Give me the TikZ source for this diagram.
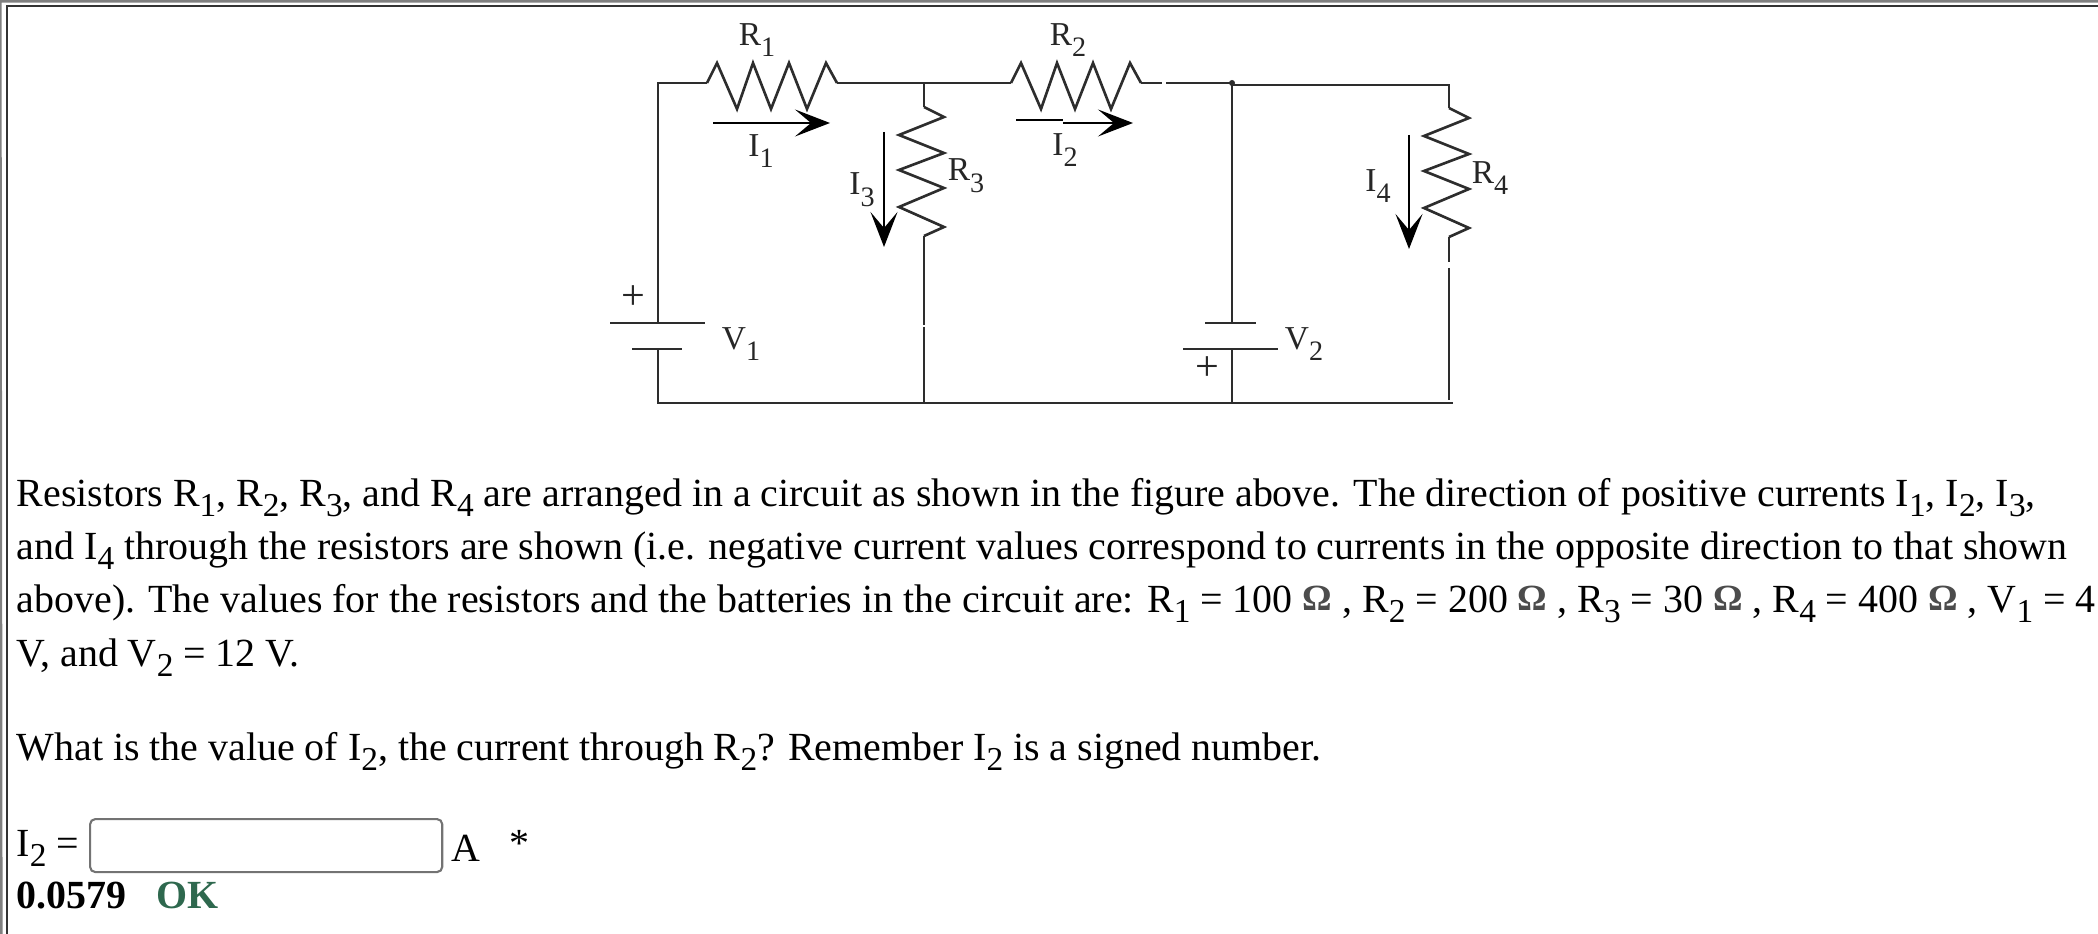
\documentclass[tikz,border=0pt]{standalone}
\usepackage{fontspec}
\setmainfont{Liberation Serif}
\usepackage{xcolor}
\definecolor{okgreen}{RGB}{46,104,78}
\definecolor{wirecol}{RGB}{45,45,45}
\usetikzlibrary{arrows.meta,positioning}
\newcommand{\subidx}[1]{\raisebox{-0.27em}{\fontsize{9.5pt}{10pt}\selectfont #1}}
\newcommand{\figidx}[1]{\raisebox{-0.35em}{\fontsize{8pt}{10pt}\selectfont #1}}
\newcommand{\ohmmark}{\raisebox{0.05em}{\fontsize{10.5pt}{10pt}\selectfont\bfseries\textcolor{black!70}{Ω}}}
\tikzset{
  wire/.style={draw=wirecol,line width=0.75pt},
  current/.style={draw=black,line width=0.65pt,-{Stealth[length=0.35cm,width=0.27cm,inset=0.16cm]}},
  plate/.style={draw=wirecol,line width=0.75pt},
  figlabel/.style={inner sep=0pt,text=black!85,font=\fontsize{9.5pt}{10pt}\selectfont},
  signlabel/.style={inner sep=0pt,text=black!85,font=\fontsize{12pt}{12pt}\selectfont},
  textline/.style={anchor=base west,inner sep=0pt,font=\fontsize{11.35pt}{12pt}\selectfont},
  answerbox/.style={draw=black!55,line width=0.6pt,rounded corners=1.5pt,inner sep=0pt,
    minimum width=3.52cm,minimum height=0.53cm,anchor=north west},
  hzigzag/.pic={
    \draw[wire] (0,0) -- (10,-20) -- (30,26) -- (46,-20) -- (64,26) -- (82,-20) -- (100,26) -- (119,-20) -- (130,0);
  },
  vzigzag/.pic={
    \draw[wire] (0,0) -- (20,10) -- (-25,28) -- (20,46) -- (-25,63) -- (20,81) -- (-25,100) -- (20,120) -- (0,129);
  }
}
\begin{document}
\begin{tikzpicture}[x=0.01cm,y=-0.01cm]
  \useasboundingbox (0,0) rectangle (2098,934);

  % page frame
  \coordinate (tl) at (0,1);
  \coordinate (tr) at (2098,1);
  \coordinate (bl) at (1,934);
  \coordinate (itl) at (7,6);
  \coordinate (itr) at (2098,6);
  \coordinate (ibl) at (7,934);
  \draw[draw=black!50,line width=0.9pt] (tr) -- (tl) -- (bl);
  \draw[draw=black!80,line width=0.6pt] (itr) -- (itl) -- (ibl);

  % circuit points
  \coordinate (corner) at (658,83);
  \coordinate (r1in) at (707,83);
  \coordinate (r1out) at (837,83);
  \coordinate (jtop) at (924,83);
  \coordinate (r2in) at (1011,83);
  \coordinate (r2out) at (1141,83);
  \coordinate (gapa) at (1162,83);
  \coordinate (gapb) at (1166,83);
  \coordinate (jright) at (1232,83);
  \coordinate (r4corner) at (1449,85);
  \coordinate (r3in) at (924,107);
  \coordinate (r3out) at (924,236);
  \coordinate (r3gapa) at (924,325);
  \coordinate (r3gapb) at (924,327);
  \coordinate (r4in) at (1449,108);
  \coordinate (r4out) at (1449,237);
  \coordinate (r4gapa) at (1449,262);
  \coordinate (r4gapb) at (1449,268);
  \coordinate (r4end) at (1449,400);
  \coordinate (v1top) at (658,323);
  \coordinate (v1bot) at (658,349);
  \coordinate (v2top) at (1232,323);
  \coordinate (v2bot) at (1232,349);
  \coordinate (bleft) at (658,403);
  \coordinate (bmid) at (924,403);
  \coordinate (bv2) at (1232,403);
  \coordinate (bright) at (1453,403);

  \draw[wire] (v1top) -- (corner) -- (r1in);
  \draw[wire] (r1out) -- (jtop) -- (r2in);
  \draw[wire] (r2out) -- (gapa);
  \draw[wire] (gapb) -- (jright) -- (v2top);
  \draw[wire] (jright |- r4corner) -- (r4corner) -- (r4in);
  \draw[wire] (jtop) -- (r3in);
  \draw[wire] (r3out) -- (r3gapa);
  \draw[wire] (r3gapb) -- (bmid);
  \draw[wire] (r4out) -- (r4gapa);
  \draw[wire] (r4gapb) -- (r4end);
  \draw[wire] (v1bot) -- (bleft) -- (bright);
  \draw[wire] (v2bot) -- (bv2);
  \fill[wirecol] (jright) circle (0.03cm);

  \pic at (r1in) {hzigzag};
  \pic at (r2in) {hzigzag};
  \pic at (r3in) {vzigzag};
  \pic at (r4in) {vzigzag};

  % batteries
  \draw[plate] (610,323) -- (705,323);
  \draw[plate] (632,349) -- (682,349);
  \draw[plate] (1205,323) -- (1256,323);
  \draw[plate] (1183,349) -- (1278,349);

  % currents
  \coordinate (i1a) at (713,123);
  \coordinate (i1b) at (830,123);
  \coordinate (i2a) at (1016,120);
  \coordinate (i2k) at (1063,120);
  \coordinate (i2m) at (1063,123);
  \coordinate (i2b) at (1133,123);
  \coordinate (i3a) at (884,132);
  \coordinate (i3b) at (884,247);
  \coordinate (i4a) at (1409,135);
  \coordinate (i4b) at (1409,249);
  \draw[current] (i1a) -- (i1b);
  \draw[current,-] (i2a) -- (i2k);
  \draw[current] (i2m) -- (i2b);
  \draw[current] (i3a) -- (i3b);
  \draw[current] (i4a) -- (i4b);

  \node[figlabel] (lr1) at (757,40) {R\figidx{1}};
  \node[figlabel] (lr2) at (1068,40) {R\figidx{2}};
  \node[figlabel] (lr3) at (966,176) {R\figidx{3}};
  \node[figlabel] (lr4) at (1490,178) {R\figidx{4}};
  \node[figlabel] (li1) at (761,151) {I\figidx{1}};
  \node[figlabel] (li2) at (1065,150) {I\figidx{2}};
  \node[figlabel] (li3) at (862,190) {I\figidx{3}};
  \node[figlabel] (li4) at (1378,186) {I\figidx{4}};
  \node[figlabel] (lv1) at (741,344) {V\figidx{1}};
  \node[figlabel] (lv2) at (1304,344) {V\figidx{2}};
  \node[signlabel] (plus1) at (633,298) {+};
  \node[signlabel] (plus2) at (1207,369) {+};

  % question text
  \node[textline] (line1) at (16,506) {Resistors R\subidx{1}, R\subidx{2}, R\subidx{3}, and R\subidx{4} are arranged in a circuit as shown in the figure above. The direction of positive currents I\subidx{1}, I\subidx{2}, I\subidx{3},};
  \node[textline] (line2) at (16,559) {and I\subidx{4} through the resistors are shown (i.e. negative current values correspond to currents in the opposite direction to that shown};
  \node[textline] (line3) at (16,612) {above). The values for the resistors and the batteries in the circuit are: R\subidx{1} = 100 \ohmmark{} , R\subidx{2} = 200 \ohmmark{} , R\subidx{3} = 30 \ohmmark{} , R\subidx{4} = 400 \ohmmark{} , V\subidx{1} = 4};
  \node[textline] (line4) at (16,666) {V, and V\subidx{2} = 12 V.};
  \node[textline] (line5) at (16,760) {What is the value of I\subidx{2}, the current through R\subidx{2}? Remember I\subidx{2} is a signed number.};

  % answer
  \node[textline] (ians) at (16,856) {I\subidx{2} =};
  \node[answerbox] (box) at (89,818) {};
  \node[textline,right=0.07cm of box.east,anchor=west,yshift=-0.03cm] (unit) {A};
  \node[textline] (star) at (509,856) {*};
  \node[textline] (value) at (16,908) {\bfseries 0.0579};
  \node[textline,text=okgreen] (okmark) at (156,908) {\bfseries OK};
\end{tikzpicture}
\end{document}
